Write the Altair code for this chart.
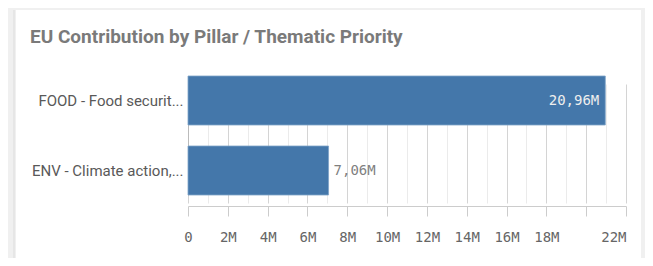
import altair as alt
import pandas as pd

title_text = "EU Contribution by Pillar / Thematic Priority"
categories = ["FOOD - Food securit...", "ENV - Climate action,..."]
values = [20960000, 7060000]
tick_values = [0, 1000000, 2000000, 3000000, 4000000, 5000000, 6000000, 7000000,
               8000000, 9000000, 10000000, 11000000, 12000000, 13000000, 14000000,
               15000000, 16000000, 17000000, 18000000, 19000000, 20000000, 21000000,
               22000000]

df = pd.DataFrame({"cat": categories, "value": values})

LABEL_FONT = "Roboto"
NUM_FONT = "DejaVu Sans Mono"

x_axis = alt.Axis(
    title=None,
    values=tick_values,
    labelExpr="datum.value == 0 ? '0' : ((datum.value % 2000000 != 0 || datum.value == 20000000) ? '' : (datum.value / 1000000) + 'M')",
    labelAlign={"condition": {"test": "datum.value == 22000000", "value": "right"}, "value": "center"},
    gridColor={"condition": {"test": "datum.value % 2000000 == 0", "value": "#d4d4d4"}, "value": "#ebebeb"},
    tickOpacity={"condition": {"test": "datum.value % 2000000 == 0", "value": 1}, "value": 0},
    tickSize=10,
    tickColor="#cccccc",
    domainColor="#cccccc",
    labelFont=NUM_FONT,
    labelFontSize=14,
    labelColor="#666666",
    labelPadding=14,
    labelFlush=False,
    labelOverlap=False,
)

y_axis = alt.Axis(
    title=None,
    ticks=False,
    domainColor="#bbbbbb",
    labelFont=LABEL_FONT,
    labelFontSize=15,
    labelColor="#595959",
    labelPadding=5,
    labelLimit=200,
)

x_enc = alt.X("value:Q", scale=alt.Scale(domain=[0, 22000000], nice=False), axis=x_axis)
y_enc = alt.Y("cat:N", sort=categories, axis=y_axis,
              scale=alt.Scale(range=[3, 122], paddingInner=0.3, paddingOuter=0))

base = alt.Chart(df)

bars = base.mark_bar(color="#4477aa", stroke="#7fa3c8", strokeWidth=0.8).encode(x=x_enc, y=y_enc)

label_expr = "replace(format(datum.value / 1000000, '.2f'), '.', ',') + 'M'"

inside = base.transform_filter("datum.value >= 10000000").transform_calculate(
    lbl=label_expr
).mark_text(align="right", dx=-6, font=NUM_FONT, fontSize=14, color="#eeeeee").encode(
    x=x_enc, y=y_enc, text="lbl:N"
)

outside = base.transform_filter("datum.value < 10000000").transform_calculate(
    lbl=label_expr
).mark_text(align="left", dx=5, font=NUM_FONT, fontSize=14, color="#7f7f7f").encode(
    x=x_enc, y=y_enc, text="lbl:N"
)

one = alt.Data(values=[{"k": 1}])
strip_left = alt.Chart(one).mark_rect(color="#f0f0f0").encode(
    x=alt.value(-180), x2=alt.value(-172), y=alt.value(-65), y2=alt.value(185))
strip_line = alt.Chart(one).mark_rect(color="#e6e6e6").encode(
    x=alt.value(-175), x2=alt.value(-173), y=alt.value(-65), y2=alt.value(185))
strip_top = alt.Chart(one).mark_rect(color="#f0f0f0").encode(
    x=alt.value(-180), x2=alt.value(457), y=alt.value(-65), y2=alt.value(-63))
strip_right = alt.Chart(one).mark_rect(color="#f0f0f0").encode(
    x=alt.value(453), x2=alt.value(457), y=alt.value(-65), y2=alt.value(185))

title = alt.Chart(one).mark_text(
    align="left", baseline="alphabetic", font=LABEL_FONT, fontSize=19,
    fontWeight="bold", color="#7a7a7a"
).encode(x=alt.value(-158), y=alt.value(-30), text=alt.value(title_text))

chart = alt.layer(
    strip_left, strip_line, strip_top, strip_right, bars, inside, outside, title
).properties(
    width=438,
    height=133,
    autosize=alt.AutoSizeParams(type="none"),
    padding={"left": 180, "top": 65, "right": 19, "bottom": 52},
    background="white",
).configure_view(stroke=None)

chart.save("out.html", embed_options={"renderer": "svg", "actions": False})
